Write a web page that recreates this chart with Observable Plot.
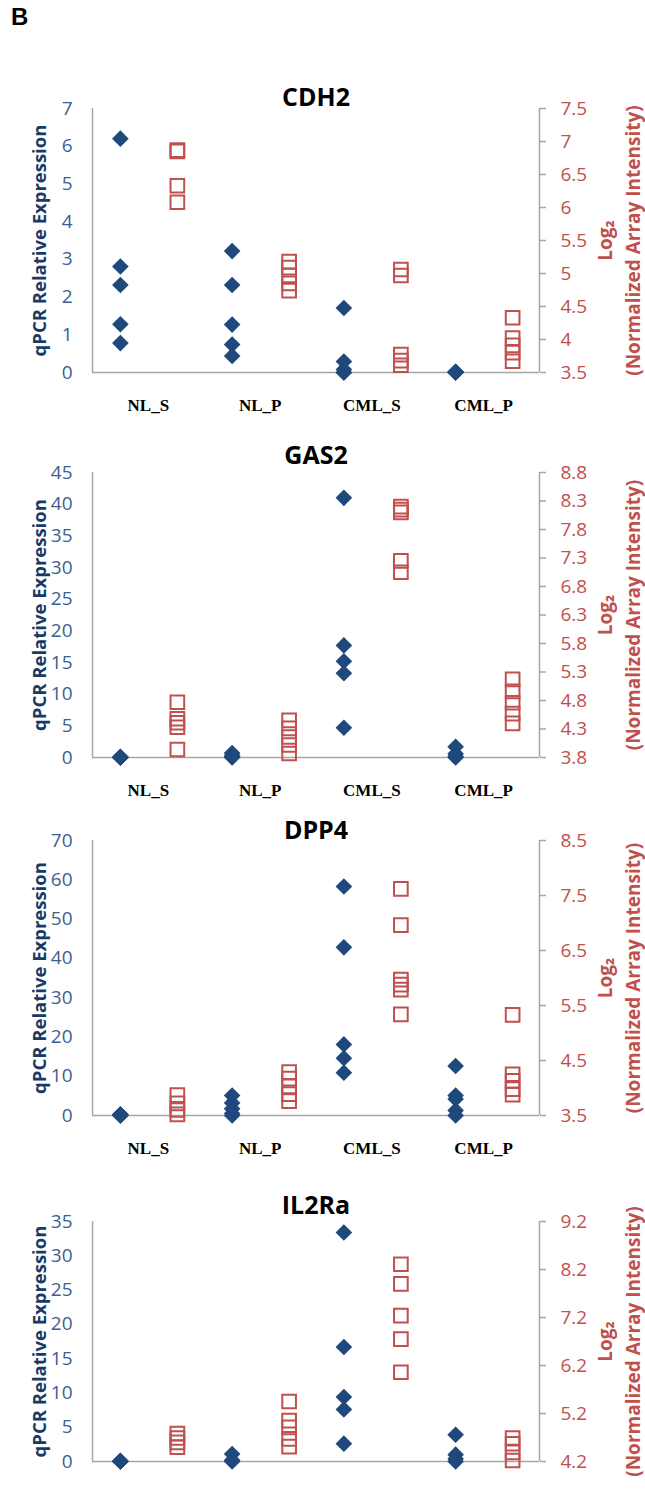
<!DOCTYPE html>
<html><head><meta charset="utf-8">
<script src="https://cdn.jsdelivr.net/npm/d3@7"></script>
<script src="https://cdn.jsdelivr.net/npm/@observablehq/plot@0.6"></script>
<style>
body{margin:0;background:#fff;width:645px;height:1489px;position:relative;overflow:hidden;font-family:"Open Sans",sans-serif}
.panel{position:absolute;left:0}
#B{position:absolute;left:11px;top:3px;font:bold 24px "Liberation Sans",Arial,sans-serif;color:#000}
</style></head><body>
<div id="B">B</div>
<div id="p0" class="panel" style="top:70px"></div>
<div id="p1" class="panel" style="top:430px"></div>
<div id="p2" class="panel" style="top:810px"></div>
<div id="p3" class="panel" style="top:1180px"></div>
<script>
// ---- data ----
const categories = ["NL_S", "NL_P", "CML_S", "CML_P"];
const genes = ["CDH2", "GAS2", "DPP4", "IL2Ra"];

// qPCR relative expression (left axis), per category
const cdh2Qpcr = [[6.2, 2.81, 2.32, 1.28, 0.78], [3.22, 2.32, 1.27, 0.74, 0.44], [1.71, 0.29, 0.08, 0.0, 0.0], [0.0, 0.01, 0.02, 0.0, 0.01]];
const gas2Qpcr = [[0.1, 0.0, 0.05, 0.0, 0.0], [0.7, 0.3, 0.1, 0.0], [41.0, 17.7, 15.2, 13.3, 4.7], [1.7, 0.6, 0.2, 0.0]];
const dpp4Qpcr = [[0.3, 0.1, 0.0, 0.2, 0.0], [5.1, 3.2, 1.7, 0.5, 0.0], [58.3, 42.8, 18.1, 14.6, 10.9], [12.6, 5.1, 4.2, 1.3, 0.0]];
const il2raQpcr = [[0.1, 0.0, 0.0, 0.05], [1.1, 0.2, 0.0], [33.4, 16.7, 9.4, 7.6, 2.6], [3.9, 1.0, 0.4, 0.0]];

// Log2 normalized array intensity (right axis), per category
const cdh2Array = [[6.87, 6.85, 6.33, 6.08], [5.18, 5.09, 4.97, 4.85, 4.74], [5.06, 4.97, 3.77, 3.68, 3.61], [4.33, 4.02, 3.91, 3.80, 3.67]];
const gas2Array = [[4.77, 4.48, 4.41, 4.33, 3.94], [4.45, 4.31, 4.16, 4.02, 3.87], [8.2, 8.15, 8.1, 7.25, 7.05], [5.17, 4.96, 4.76, 4.57, 4.40]];
const dpp4Array = [[3.87, 3.72, 3.60, 3.52], [4.29, 4.17, 4.03, 3.89, 3.76], [7.62, 6.96, 5.97, 5.88, 5.79, 5.34], [5.33, 4.25, 4.13, 3.98, 3.88]];
const il2raArray = [[4.78, 4.69, 4.60, 4.50], [5.45, 5.05, 4.91, 4.67, 4.51], [8.31, 7.90, 7.24, 6.75, 6.06], [4.69, 4.57, 4.39, 4.22]];

// tick labels
const cdh2LeftTicks = [0, 1, 2, 3, 4, 5, 6, 7];
const cdh2RightTicks = [3.5, 4, 4.5, 5, 5.5, 6, 6.5, 7, 7.5];
const gas2LeftTicks = [0, 5, 10, 15, 20, 25, 30, 35, 40, 45];
const gas2RightTicks = [3.8, 4.3, 4.8, 5.3, 5.8, 6.3, 6.8, 7.3, 7.8, 8.3, 8.8];
const dpp4LeftTicks = [0, 10, 20, 30, 40, 50, 60, 70];
const dpp4RightTicks = [3.5, 4.5, 5.5, 6.5, 7.5, 8.5];
const il2raLeftTicks = [0, 5, 10, 15, 20, 25, 30, 35];
const il2raRightTicks = [4.2, 5.2, 6.2, 7.2, 8.2, 9.2];

const leftTitle = "qPCR Relative Expression";
const rightTitle1 = "Log\u2082";
const rightTitle2 = "(Normalized Array Intensity)";

// ---- layout ----
const layouts = [
  {height: 360, mTop: 38, mBottom: 58, titleDy: -11, labels: true},
  {height: 380, mTop: 42, mBottom: 53, titleDy: -17, labels: true},
  {height: 370, mTop: 30, mBottom: 65, titleDy: -10, labels: true},
  {height: 309, mTop: 41, mBottom: 28, titleDy: -16, labels: false}
];
const panels = [
  [cdh2Qpcr, cdh2Array, cdh2LeftTicks, cdh2RightTicks],
  [gas2Qpcr, gas2Array, gas2LeftTicks, gas2RightTicks],
  [dpp4Qpcr, dpp4Array, dpp4LeftTicks, dpp4RightTicks],
  [il2raQpcr, il2raArray, il2raLeftTicks, il2raRightTicks]
];

const BLUE = "#1F497D", TICKBLUE = "#3B6092", NAVY = "#1A3A66", RED = "#C0504D", GRAY = "#a6a6a6";

panels.forEach(([qpcr, arr, lt, rt], k) => {
  const L = layouts[k];
  const lmax = lt[lt.length - 1];
  const rmin = rt[0], rmax = rt[rt.length - 1];
  const toLeft = v => (v - rmin) / (rmax - rmin) * lmax;
  const fromLeft = y => rmin + y / lmax * (rmax - rmin);
  const qRows = qpcr.flatMap((vals, i) => vals.map(v => ({cat: i + 0.5, v})));
  const aRows = arr.flatMap((vals, i) => vals.map(v => ({cat: i + 0.5, v: toLeft(v)})));
  const marks = [
    Plot.ruleY([0], {stroke: GRAY, strokeWidth: 1.5}),
    Plot.ruleX([0, 4], {stroke: GRAY, strokeWidth: 1.5}),
    Plot.axisY(lt, {anchor: "left", label: null, tickSize: 0, tickPadding: 20, fill: TICKBLUE, fontSize: 19}),
    Plot.axisY(rt.map(toLeft), {anchor: "right", label: null, tickSize: 6, tickPadding: 15, stroke: GRAY, strokeWidth: 1.5, fill: RED, fontSize: 19,
      tickFormat: y => String(Math.round(fromLeft(y) * 10) / 10)}),
    L.labels ? Plot.axisX(categories.map((c, i) => i + 0.5), {anchor: "bottom", label: null, tickSize: 0, tickPadding: 26,
      tickFormat: d => categories[Math.floor(d)], fontFamily: "Liberation Serif", fontWeight: "bold", fontSize: 17, fill: "#000"}) : null,
    Plot.dot(qRows, {x: "cat", y: "v", symbol: "diamond2", r: 7.5, fill: BLUE, dx: -28}),
    Plot.dot(aRows, {x: "cat", y: "v", symbol: "square2", r: 8.7, stroke: RED, strokeWidth: 2, fill: "none", dx: 29}),
    Plot.text([genes[k]], {frameAnchor: "top", lineAnchor: "middle", dy: L.titleDy, fontSize: 25, fontWeight: "bold", fill: "#000"}),
    Plot.text([leftTitle], {frameAnchor: "left", textAnchor: "middle", lineAnchor: "middle", rotate: -90, dx: -52, fontSize: 18.5, fontWeight: "bold", fill: NAVY}),
    Plot.text([rightTitle1], {frameAnchor: "right", textAnchor: "middle", lineAnchor: "middle", rotate: -90, dx: 66, fontSize: 19, fontWeight: "bold", fill: RED}),
    Plot.text([rightTitle2], {frameAnchor: "right", textAnchor: "middle", lineAnchor: "middle", rotate: -90, dx: 94, fontSize: 19, fontWeight: "bold", fill: RED})
  ].filter(Boolean);
  const chart = Plot.plot({
    width: 645, height: L.height,
    marginLeft: 92, marginRight: 106, marginTop: L.mTop, marginBottom: L.mBottom,
    x: {domain: [0, 4], axis: null},
    y: {domain: [0, lmax], axis: null},
    style: {fontFamily: "'Open Sans', sans-serif", background: "transparent", overflow: "visible"},
    marks
  });
  document.getElementById("p" + k).appendChild(chart);
});
</script>
</body></html>
